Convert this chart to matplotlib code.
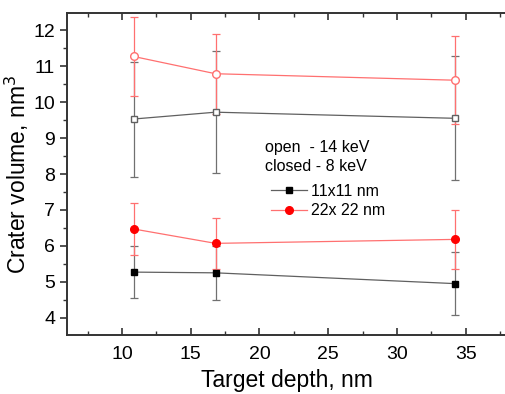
import matplotlib
matplotlib.use("Agg")
import matplotlib.pyplot as plt
from matplotlib.ticker import MultipleLocator

plt.rcParams['font.family'] = ['Liberation Sans', 'DejaVu Sans']

depth = [10.85, 16.8, 34.2]

# closed symbols - 8 keV
small_8 = [5.27, 5.25, 4.95]
small_8_err = [0.72, 0.76, 0.88]
large_8 = [6.47, 6.07, 6.18]
large_8_err = [0.73, 0.71, 0.82]

# open symbols - 14 keV
small_14 = [9.53, 9.72, 9.55]
small_14_err = [1.60, 1.70, 1.72]
large_14 = [11.27, 10.79, 10.61]
large_14_err = [1.11, 1.11, 1.23]

fig = plt.figure(figsize=(5.06, 3.94), dpi=100)
ax = fig.add_axes([67 / 506, 1 - 335 / 394, 440 / 506, 322 / 394])

gray = '#606060'
lred = '#ff7070'
ebar = dict(capsize=2.7, elinewidth=0.9, capthick=0.9)

ax.errorbar(depth, small_14, yerr=small_14_err, color=gray, lw=0.9, marker='s', ms=5,
            mfc='white', mec=gray, ecolor='#707070', **ebar)
ax.errorbar(depth, large_14, yerr=large_14_err, color=lred, lw=0.9, marker='o', ms=5.5,
            mfc='white', mec=lred, ecolor=lred, **ebar)
ax.errorbar(depth, small_8, yerr=small_8_err, color=gray, lw=0.9, marker='s', ms=4.8,
            mfc='black', mec='black', ecolor='#707070', label='11x11 nm', **ebar)
ax.errorbar(depth, large_8, yerr=large_8_err, color=lred, lw=0.9, marker='o', ms=5.5,
            mfc='red', mec='red', ecolor=lred, label='22x 22 nm', **ebar)

ax.set_xlim(6, 38)
ax.set_ylim(3.52, 12.48)
ax.xaxis.set_major_locator(MultipleLocator(5))
ax.xaxis.set_minor_locator(MultipleLocator(2.5))
ax.yaxis.set_major_locator(MultipleLocator(1))
ax.yaxis.set_minor_locator(MultipleLocator(0.5))

ax.tick_params(axis='x', which='both', direction='in', top=True, labelsize=14, pad=8)
ax.tick_params(axis='y', which='both', direction='out', right=True, labelsize=14)
ax.tick_params(which='major', length=5, width=1.2, color='#333333')
ax.tick_params(which='minor', length=3, width=1.0, color='#333333')
for s in ax.spines.values():
    s.set_linewidth(1.4)
    s.set_color('#333333')

ax.set_xlabel('Target depth, nm', fontsize=16.5, labelpad=4)
ax.set_ylabel('Crater volume, nm$^3$', fontsize=16.5, labelpad=2)

ax.text(0.45, 0.50, 'open  - 14 keV\nclosed - 8 keV', transform=ax.transAxes,
        fontsize=11.5, ha='left', va='bottom', linespacing=1.3)
handles, labels = ax.get_legend_handles_labels()
handles = [h[0] for h in handles]
ax.legend(handles, labels, loc='upper left', bbox_to_anchor=(0.43, 0.515), frameon=False,
          fontsize=11.5, handlelength=2.25, handletextpad=0.3, labelspacing=0.3)

fig.savefig('out.png', dpi=100)
